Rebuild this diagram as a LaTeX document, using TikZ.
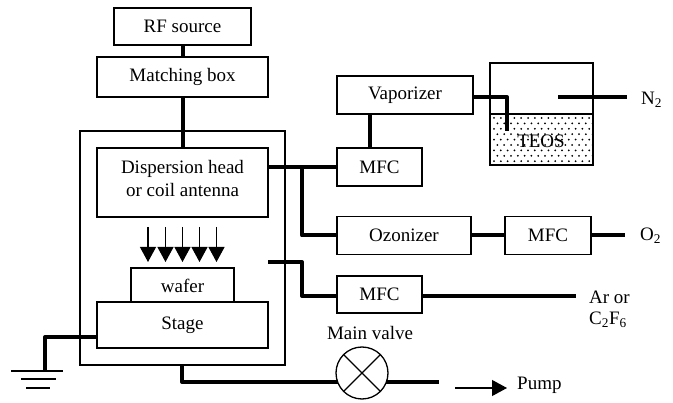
\documentclass[tikz,border=0pt]{standalone}
\usepackage{fontspec}
\setmainfont{Liberation Serif}
\usetikzlibrary{arrows.meta,positioning,calc}
\begin{document}
\begin{tikzpicture}[x=1pt,y=-1pt,font=\fontsize{19}{23}\selectfont,
  box/.style={draw,line width=1.3pt,inner sep=0pt,outer sep=0pt,align=center,fill=white},
  pipe/.style={line width=4pt,line join=round},
  thin line/.style={line width=1.3pt},
  label/.style={inner sep=0pt,align=left},
  flow/.style={line width=1.1pt,-{Triangle[length=15pt,width=16pt]}}]
  \useasboundingbox (0,0) rectangle (673,403);
  % chamber wall goes under everything else
  \node[box,fill=none,minimum width=205pt,minimum height=234pt] (chamber) at (182.5,248) {};
  \node[box,minimum width=137pt,minimum height=37pt] (rf) at (182.5,26.5) {RF source};
  \node[box,minimum width=171pt,minimum height=40pt] (match) at (182.5,77) {Matching box};
  \node[box,minimum width=171pt,minimum height=69pt,text depth=8pt] (head) at (182.5,182.5) {Dispersion head\\or coil antenna};
  \node[box,minimum width=103pt,minimum height=34pt,text height=16pt] (wafer) at (182.5,285) {wafer};
  \node[box,minimum width=171pt,minimum height=46pt] (stage) at (182.5,325) {Stage};
  \node[box,minimum width=85pt,minimum height=38pt] (mfcvap) at (379.5,167) {MFC};
  \node[box,minimum width=136pt,minimum height=38pt] (vap) at (405,95) {Vaporizer};
  \node[box,minimum width=134pt,minimum height=38pt] (ozone) at (404,235.5) {Ozonizer};
  \node[box,minimum width=86pt,minimum height=38pt] (mfcoxy) at (548,235.5) {MFC};
  \node[box,minimum width=85pt,minimum height=37pt] (mfcar) at (379.5,294.5) {MFC};
  % TEOS bottle
  \node[box,fill=none,minimum width=103pt,minimum height=102pt] (bottle) at (541.5,114) {};
  \coordinate (level) at (490,114);
  \draw[thin line] (level) -- (level -| bottle.east);
  \foreach \row in {0,...,8}
    \foreach \col in {0,...,14}
      \fill ({494+\col*6.8+mod(\row,2)*3.4},{118+\row*5.4}) circle (1pt);
  \node[label] (teos) at (541,141) {TEOS};
  % labels
  \node[label,anchor=west] (nitro) at (641,100) {N\textsubscript{2}};
  \node[label,anchor=west] (oxy) at (640,236) {O\textsubscript{2}};
  \node[label,anchor=west] (ar) at (589,297) {Ar or};
  \node[label,anchor=west] (cff) at (589,320) {C\textsubscript{2}F\textsubscript{6}};
  \node[label] (mainv) at (370,333) {Main valve};
  \node[label,anchor=west] (pump) at (517,385) {Pump};
  % pipes, top to bottom
  \draw[pipe] (rf.south) -- (match.north);
  \draw[pipe] (match.south) -- (head.north);
  \coordinate (vaptap) at (370,114);
  \draw[pipe] (vaptap |- mfcvap.north) -- (vaptap);
  \coordinate (bubbler) at (507,131);
  \draw[pipe] (vap.east |- 0,97) -- (bubbler |- 0,97) -- (bubbler);
  \coordinate (nitroin) at (558,97);
  \coordinate (nitroout) at (627,97);
  \draw[pipe] (nitroin) -- (nitroout);
  \draw[pipe] (head.east |- mfcvap.west) -- (mfcvap.west);
  \coordinate (branch) at (302,167);
  \draw[pipe] (branch) -- (branch |- ozone.west) -- (ozone.west);
  \draw[pipe] (ozone.east) -- (mfcoxy.west);
  \coordinate (oxyend) at (625,235.5);
  \draw[pipe] (mfcoxy.east) -- (oxyend);
  \coordinate (gasin) at (268,262);
  \coordinate (gasbend) at (302,262);
  \coordinate (arend) at (576,296);
  \draw[pipe] (gasin) -- (gasbend) -- (gasbend |- arend) -- (mfcar.west |- arend);
  \draw[pipe] (mfcar.east |- arend) -- (arend);
  \coordinate (exit) at (182,365);
  \coordinate (exitbend) at (182,382);
  \coordinate (exitend) at (439,382);
  \draw[pipe] (exit) -- (exitbend) -- (exitend);
  % valve sits on the exhaust line
  \node[draw,thin line,circle,fill=white,minimum size=52pt,inner sep=0pt,outer sep=0pt] (valve) at (362,373) {};
  \draw[thin line] (valve.north west) -- (valve.south east);
  \draw[thin line] (valve.north east) -- (valve.south west);
  % ground
  \coordinate (gnd) at (45,371);
  \draw[pipe] (stage.west |- 0,337) -- (gnd |- 0,337) -- (gnd);
  \draw[thin line] (11,371) -- (63,371);
  \draw[thin line] (21,379) -- (56,379);
  \draw[thin line] (26,388) -- (50,388);
  % arrows and pump
  \foreach \ax in {148,165.5,182.5,199.5,216.5}
    \draw[flow] (\ax,227) -- (\ax,262);
  \coordinate (pumpfrom) at (455,388);
  \coordinate (pumpto) at (507,388);
  \draw[flow] (pumpfrom) -- (pumpto);
\end{tikzpicture}
\end{document}
